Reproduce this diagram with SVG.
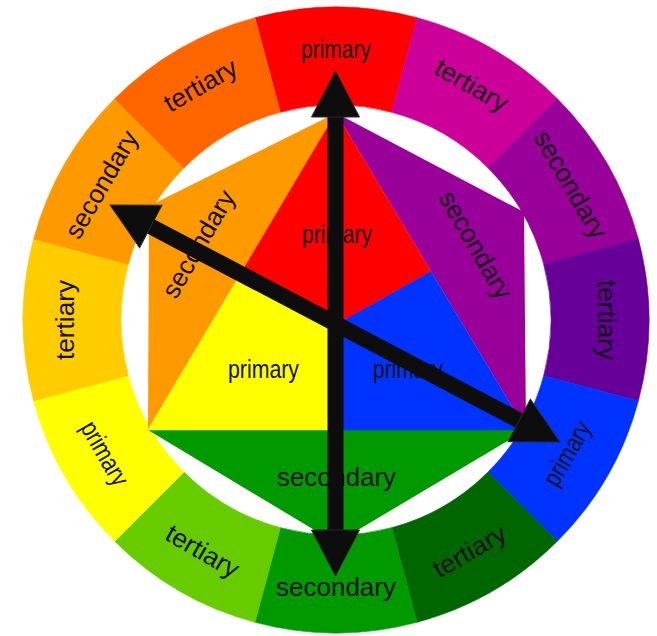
<svg xmlns="http://www.w3.org/2000/svg" width="657" height="636" viewBox="0 0 657 636">
<style>
.lbl{font-family:"Liberation Sans",Arial,sans-serif;font-size:26px;fill:#111;text-anchor:middle}
.seg{stroke-width:0.6}
.arrow{stroke:#0d0d0d;stroke-width:16;fill:none;marker-start:url(#head);marker-end:url(#head)}
</style>
<defs>
<marker id="head" markerUnits="userSpaceOnUse" markerWidth="50" markerHeight="50" refX="2" refY="24" orient="auto-start-reverse" overflow="visible">
<path d="M0,0 L46,24 L0,48 Z" fill="#0d0d0d" stroke="#2a2a2a" stroke-width="1"/>
</marker>
</defs>
<rect width="657" height="636" fill="#ffffff"/>
<g id="ring" transform="translate(336,320)">
<g id="ring-primary-red"><path class="seg" fill="#FF0000" stroke="#FF0000" d="M-81.01,-302.33 A313,313 0 0 1 81.01,-302.33 L55.65,-207.67 A215,215 0 0 0 -55.65,-207.67 Z"/><text class="lbl" transform="rotate(0) translate(0,-269)" dy="6.8" textLength="70" lengthAdjust="spacingAndGlyphs">primary</text></g>
<g id="ring-tertiary-magenta"><path class="seg" fill="#CC0099" stroke="#CC0099" d="M81.01,-302.33 A313,313 0 0 1 221.32,-221.32 L152.03,-152.03 A215,215 0 0 0 55.65,-207.67 Z"/><text class="lbl" transform="rotate(30) translate(0,-269)" dy="6.8" textLength="80" lengthAdjust="spacingAndGlyphs">tertiary</text></g>
<g id="ring-secondary-purple"><path class="seg" fill="#990099" stroke="#990099" d="M221.32,-221.32 A313,313 0 0 1 302.33,-81.01 L207.67,-55.65 A215,215 0 0 0 152.03,-152.03 Z"/><text class="lbl" transform="rotate(60) translate(0,-269)" dy="6.8" textLength="120" lengthAdjust="spacingAndGlyphs">secondary</text></g>
<g id="ring-tertiary-violet"><path class="seg" fill="#660099" stroke="#660099" d="M302.33,-81.01 A313,313 0 0 1 302.33,81.01 L207.67,55.65 A215,215 0 0 0 207.67,-55.65 Z"/><text class="lbl" transform="rotate(90) translate(0,-269)" dy="6.8" textLength="80" lengthAdjust="spacingAndGlyphs">tertiary</text></g>
<g id="ring-primary-blue"><path class="seg" fill="#0033FF" stroke="#0033FF" d="M302.33,81.01 A313,313 0 0 1 221.32,221.32 L152.03,152.03 A215,215 0 0 0 207.67,55.65 Z"/><text class="lbl" transform="rotate(120) translate(0,-269) rotate(180)" dy="6.8" textLength="70" lengthAdjust="spacingAndGlyphs">primary</text></g>
<g id="ring-tertiary-darkgreen"><path class="seg" fill="#006600" stroke="#006600" d="M221.32,221.32 A313,313 0 0 1 81.01,302.33 L55.65,207.67 A215,215 0 0 0 152.03,152.03 Z"/><text class="lbl" transform="rotate(150) translate(0,-269) rotate(180)" dy="6.8" textLength="80" lengthAdjust="spacingAndGlyphs">tertiary</text></g>
<g id="ring-secondary-green"><path class="seg" fill="#009900" stroke="#009900" d="M81.01,302.33 A313,313 0 0 1 -81.01,302.33 L-55.65,207.67 A215,215 0 0 0 55.65,207.67 Z"/><text class="lbl" transform="rotate(180) translate(0,-269) rotate(180)" dy="6.8" textLength="120" lengthAdjust="spacingAndGlyphs">secondary</text></g>
<g id="ring-tertiary-lime"><path class="seg" fill="#66CC00" stroke="#66CC00" d="M-81.01,302.33 A313,313 0 0 1 -221.32,221.32 L-152.03,152.03 A215,215 0 0 0 -55.65,207.67 Z"/><text class="lbl" transform="rotate(210) translate(0,-269) rotate(180)" dy="6.8" textLength="80" lengthAdjust="spacingAndGlyphs">tertiary</text></g>
<g id="ring-primary-yellow"><path class="seg" fill="#FFFF00" stroke="#FFFF00" d="M-221.32,221.32 A313,313 0 0 1 -302.33,81.01 L-207.67,55.65 A215,215 0 0 0 -152.03,152.03 Z"/><text class="lbl" transform="rotate(240) translate(0,-269) rotate(180)" dy="6.8" textLength="70" lengthAdjust="spacingAndGlyphs">primary</text></g>
<g id="ring-tertiary-amber"><path class="seg" fill="#FFCC00" stroke="#FFCC00" d="M-302.33,81.01 A313,313 0 0 1 -302.33,-81.01 L-207.67,-55.65 A215,215 0 0 0 -207.67,55.65 Z"/><text class="lbl" transform="rotate(270) translate(0,-269)" dy="6.8" textLength="80" lengthAdjust="spacingAndGlyphs">tertiary</text></g>
<g id="ring-secondary-orange"><path class="seg" fill="#FF9900" stroke="#FF9900" d="M-302.33,-81.01 A313,313 0 0 1 -221.32,-221.32 L-152.03,-152.03 A215,215 0 0 0 -207.67,-55.65 Z"/><text class="lbl" transform="rotate(300) translate(0,-269)" dy="6.8" textLength="120" lengthAdjust="spacingAndGlyphs">secondary</text></g>
<g id="ring-tertiary-redorange"><path class="seg" fill="#FF6600" stroke="#FF6600" d="M-221.32,-221.32 A313,313 0 0 1 -81.01,-302.33 L-55.65,-207.67 A215,215 0 0 0 -152.03,-152.03 Z"/><text class="lbl" transform="rotate(330) translate(0,-269)" dy="6.8" textLength="80" lengthAdjust="spacingAndGlyphs">tertiary</text></g>
</g>
<g id="hexagon">
<g id="hex-secondary-orange"><polygon fill="#FF9900" points="336,113 149,206 148,430"/><text class="lbl" transform="translate(200,245) rotate(-60)" dy="6.8" textLength="120" lengthAdjust="spacingAndGlyphs">secondary</text></g>
<g id="hex-secondary-purple"><polygon fill="#990099" points="336,113 524,212 526,430"/><text class="lbl" transform="translate(474,246) rotate(60)" dy="6.8" textLength="120" lengthAdjust="spacingAndGlyphs">secondary</text></g>
<g id="hex-secondary-green"><polygon fill="#009900" points="148,430 526,430 336,543"/><text class="lbl" x="336.5" y="486" textLength="119" lengthAdjust="spacingAndGlyphs">secondary</text></g>
<g id="hex-primary-red"><polygon fill="#FF0000" stroke="#FF0000" stroke-width="0.5" points="336,113 431,271.5 336.7,324.3 242,271.5"/><text class="lbl" x="337" y="243" textLength="70" lengthAdjust="spacingAndGlyphs">primary</text></g>
<g id="hex-primary-yellow"><polygon fill="#FFFF00" stroke="#FFFF00" stroke-width="0.5" points="148,430 242,271.5 336.7,324.3 337,430"/><text class="lbl" x="263.5" y="378" textLength="71" lengthAdjust="spacingAndGlyphs">primary</text></g>
<g id="hex-primary-blue"><polygon fill="#0033FF" stroke="#0033FF" stroke-width="0.5" points="526,430 431,271.5 336.7,324.3 337,430"/><text class="lbl" x="408" y="378" textLength="70" lengthAdjust="spacingAndGlyphs">primary</text></g>
</g>
<g id="connectors">
<line class="arrow" x1="335.5" y1="532" x2="335.5" y2="115"/>
<line class="arrow" x1="521" y1="421.5" x2="149" y2="225.5"/>
</g>
</svg>
